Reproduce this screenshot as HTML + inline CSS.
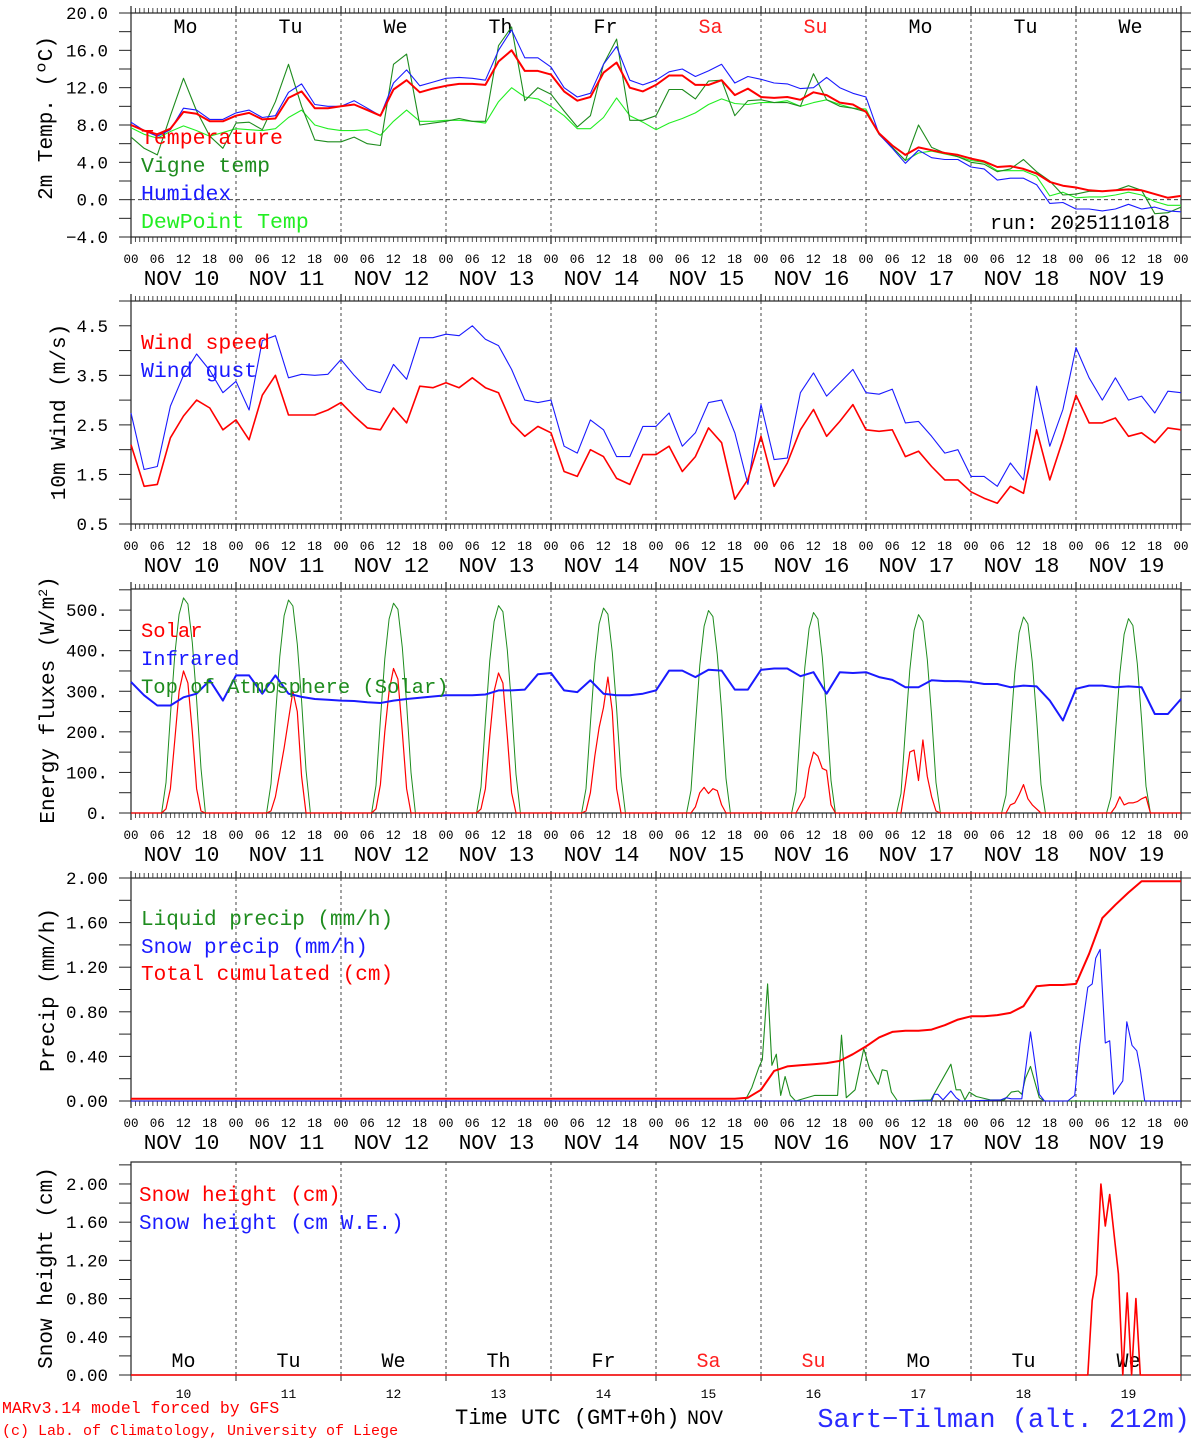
<!DOCTYPE html>
<html><head><meta charset="utf-8"><style>
html,body{margin:0;padding:0;background:#fff;}
svg{display:block;font-family:"Liberation Mono",monospace;}
</style></head><body>
<svg id="chart" xmlns="http://www.w3.org/2000/svg" width="1194" height="1440" viewBox="0 0 1194 1440">
<rect x="0" y="0" width="1194" height="1440" fill="#fff"/>
<g id="g"></g>
<g font-size="21.5">
<text x="141" y="144" fill="#ff0000">Temperature</text>
<text x="141" y="172" fill="#1e8c1e">Vigne temp</text>
<text x="141" y="200" fill="#1a1aff">Humidex</text>
<text x="141" y="228" fill="#22ee22">DewPoint Temp</text>
<text x="1170" y="229" font-size="20" fill="#000" text-anchor="end">run: 2025111018</text>
</g>
<g font-size="21.5">
<text x="141" y="349" fill="#ff0000">Wind speed</text>
<text x="141" y="377" fill="#1a1aff">Wind gust</text>
</g>
<g font-size="20.5">
<text x="141" y="637" fill="#ff0000">Solar</text>
<text x="141" y="665" fill="#1a1aff">Infrared</text>
<text x="141" y="693" fill="#1e8c1e">Top of Atmosphere (Solar)</text>
</g>
<g font-size="21">
<text x="141" y="925" fill="#1e8c1e">Liquid precip (mm/h)</text>
<text x="141" y="953" fill="#1a1aff">Snow precip (mm/h)</text>
<text x="141" y="980" fill="#ff0000">Total cumulated (cm)</text>
</g>
<g font-size="21">
<text x="139" y="1201" fill="#ff0000">Snow height (cm)</text>
<text x="139" y="1229" fill="#1a1aff">Snow height (cm W.E.)</text>
</g>
<g font-size="21" fill="#000" text-anchor="middle">
<text transform="translate(52,118) rotate(-90)">2m Temp. (ºC)</text>
<text transform="translate(65,412) rotate(-90)">10m Wind (m/s)</text>
<text transform="translate(54,700) rotate(-90)">Energy fluxes (W/m<tspan font-size="13" dy="-7">2</tspan><tspan dy="7">)</tspan></text>
<text transform="translate(54,990) rotate(-90)">Precip (mm/h)</text>
<text transform="translate(52,1268) rotate(-90)">Snow height (cm)</text>
</g>
<g>
<text x="2" y="1413" font-size="16.5" fill="#ff0000">MARv3.14 model forced by GFS</text>
<text x="2" y="1435" font-size="15" fill="#ff0000">(c) Lab. of Climatology, University of Liege</text>
<text x="455" y="1424" font-size="22" fill="#000">Time UTC (GMT+0h)</text>
<text x="687" y="1424" font-size="20" fill="#000">NOV</text>
<text x="1190" y="1427" font-size="27" fill="#2a2aff" text-anchor="end">Sart−Tilman (alt. 212m)</text>
</g>
</svg>
<script>
// ---------- data (3-hourly from Nov 10 00 UTC) ----------
const dayNames = ["Mo","Tu","We","Th","Fr","Sa","Su","Mo","Tu","We"];
const dayNums = ["10","11","12","13","14","15","16","17","18","19"];
const hourLabels = ["00","06","12","18"];
const tempTicks = ["20.0","16.0","12.0","8.0","4.0","0.0","−4.0"];
const tempTickVals = [20,16,12,8,4,0,-4];
const windTicks = ["4.5","3.5","2.5","1.5","0.5"];
const windTickVals = [4.5,3.5,2.5,1.5,0.5];
const energyTicks = ["500.","400.","300.","200.","100.","0."];
const energyTickVals = [500,400,300,200,100,0];
const precipTicks = ["2.00","1.60","1.20","0.80","0.40","0.00"];
const precipTickVals = [2,1.6,1.2,0.8,0.4,0];

const temperature = [8.0,7.4,7.0,7.6,9.4,9.2,8.4,8.4, 9.0,9.3,8.6,8.7,10.9,11.6,9.8,9.8, 10.0,10.2,9.6,9.0,11.8,12.8,11.5,11.9, 12.2,12.4,12.4,12.3,14.8,16.0,13.8,13.8, 13.4,11.6,10.6,11.0,13.6,14.7,12.0,11.6, 12.3,13.3,13.3,12.3,12.3,12.8,11.2,11.9, 11.0,10.9,11.0,10.7,11.5,11.2,10.4,10.2, 9.4,7.1,5.8,4.8,5.6,5.3,5.0,4.8, 4.4,4.1,3.5,3.6,3.3,2.8,1.9,1.5, 1.3,1.0,0.9,1.0,1.1,1.0,0.6,0.2,0.4];
const vigneTemp = [6.7,5.5,4.8,9.0,13.0,9.5,6.8,5.5, 8.2,8.3,7.5,10.5,14.5,10.0,6.4,6.2, 6.2,6.7,6.0,5.8,14.5,15.6,8.0,8.2, 8.4,8.7,8.4,8.4,16.5,18.5,10.6,12.0, 11.3,9.5,7.8,9.0,14.5,17.2,8.5,8.5, 9.0,11.8,11.8,10.8,12.7,12.8,9.0,10.6, 10.7,10.4,10.4,10.0,13.5,10.7,10.0,9.8, 9.4,7.0,5.6,4.2,8.0,5.6,5.0,4.6, 4.0,3.8,3.0,3.3,4.3,3.0,2.0,0.5, 0.6,0.9,0.9,1.0,1.5,1.0,-1.5,-1.4,-0.8];
const humidex = [8.3,7.4,6.8,7.5,9.8,9.6,8.6,8.6, 9.3,9.6,8.8,9.0,11.5,12.4,10.2,10.0, 10.0,10.6,9.8,9.0,12.5,13.9,12.2,12.6, 13.0,13.1,13.0,12.8,16.0,18.2,15.2,15.2, 14.2,12.0,11.0,11.4,14.5,16.4,12.8,12.3, 12.8,13.7,14.0,13.2,13.8,14.5,12.5,13.2, 12.9,12.5,12.4,11.9,12.0,13.1,12.0,11.4, 11.0,7.0,5.5,3.9,5.3,4.5,4.3,4.3, 3.5,3.3,2.1,2.3,2.3,1.6,-0.4,-0.3, -1.0,-1.0,-1.2,-1.0,-0.5,-1.0,-0.8,-1.2,-1.3];
const dewPoint = [7.7,7.0,6.6,7.3,7.9,7.4,6.8,7.2, 7.6,7.5,7.4,7.6,8.8,9.6,8.0,7.6, 7.4,7.4,7.5,6.9,8.4,9.6,8.4,8.4, 8.5,8.5,8.4,8.2,10.5,12.0,11.0,10.8, 10.0,9.0,7.6,7.6,8.8,10.9,9.0,8.3, 7.5,8.2,8.7,9.3,10.2,10.8,10.3,10.2, 10.4,10.4,10.6,10.0,10.4,10.7,10.2,9.8, 9.7,7.0,5.6,4.2,5.0,5.2,4.9,4.6, 4.2,4.0,3.1,3.1,3.1,2.5,0.4,0.8, 0.2,0.3,0.3,0.5,0.8,0.5,-0.2,-0.6,-0.6];

const windSpeed = [2.1,1.26,1.3,2.24,2.68,3.0,2.84,2.4, 2.6,2.2,3.1,3.5,2.7,2.7,2.7,2.8, 2.95,2.68,2.44,2.4,2.84,2.54,3.28,3.25, 3.35,3.25,3.45,3.25,3.15,2.54,2.27,2.47, 2.34,1.56,1.46,2.0,1.86,1.42,1.3,1.9, 1.9,2.07,1.56,1.86,2.44,2.14,1.0,1.4, 2.27,1.26,1.73,2.4,2.81,2.27,2.57,2.91, 2.4,2.37,2.4,1.86,1.97,1.66,1.39,1.39, 1.15,1.02,0.92,1.26,1.12,2.4,1.39,2.2, 3.1,2.54,2.54,2.64,2.27,2.34,2.14,2.44,2.4];
const windGust = [2.74,1.6,1.66,2.88,3.5,3.93,3.6,3.15, 3.38,2.8,4.2,4.3,3.45,3.52,3.5,3.52, 3.82,3.5,3.22,3.15,3.72,3.42,4.26,4.26, 4.33,4.3,4.5,4.23,4.1,3.62,3.0,2.95, 3.0,2.07,1.93,2.6,2.4,1.86,1.86,2.47, 2.47,2.74,2.07,2.34,2.95,3.0,2.34,1.3, 2.91,1.8,1.83,3.15,3.55,3.08,3.35,3.62, 3.15,3.12,3.22,2.54,2.57,2.27,1.93,2.0, 1.46,1.46,1.26,1.73,1.39,3.28,2.07,2.81, 4.06,3.45,3.0,3.45,3.0,3.08,2.74,3.18,3.15];

const infrared = [323,290,265,265,285,294,327,277, 339,339,294,339,294,286,281,279, 277,276,273,271,277,281,284,287, 290,290,290,292,302,302,304,342, 345,302,298,327,294,290,290,294, 302,351,351,335,353,351,304,304, 353,356,356,337,347,294,347,345, 347,335,328,310,310,327,325,325, 323,318,318,310,314,312,277,228, 306,314,314,310,312,310,244,244,281];
// hourly values for hours 07..17 of each day
const toaDaily = [
[0,75,240,390,490,530,515,420,280,110,0],
[0,72,236,386,486,525,510,416,276,106,0],
[0,68,230,380,478,517,502,408,270,100,0],
[0,64,226,376,472,511,496,402,264,95,0],
[0,60,220,370,466,505,490,396,258,90,0],
[0,56,215,364,460,499,484,390,252,85,0],
[0,52,210,358,455,494,478,384,246,80,0],
[0,48,205,352,450,489,472,378,240,75,0],
[0,44,200,346,444,483,466,372,234,70,0],
[0,40,196,342,440,479,462,368,230,66,0]];
const solarDaily = [
[0,10,60,180,300,350,320,200,60,5,0],
[0,5,40,100,160,230,300,250,90,0,0],
[0,10,70,200,300,356,330,200,60,0,0],
[0,10,60,190,300,345,320,190,50,0,0],
[0,5,50,140,210,260,335,250,60,0,0],
[0,0,15,50,63,48,60,55,20,0,0],
[0,0,20,40,110,150,140,110,105,20,0],
[0,0,70,150,155,80,180,90,40,5,0],
[0,0,20,25,45,70,35,20,10,0,0],
[0,0,15,40,20,25,25,28,35,40,0]];

const totalCumulated = [0.02,0.02,0.02,0.02,0.02,0.02,0.02,0.02, 0.02,0.02,0.02,0.02,0.02,0.02,0.02,0.02, 0.02,0.02,0.02,0.02,0.02,0.02,0.02,0.02, 0.02,0.02,0.02,0.02,0.02,0.02,0.02,0.02, 0.02,0.02,0.02,0.02,0.02,0.02,0.02,0.02, 0.02,0.02,0.02,0.02,0.02,0.02,0.02,0.03, 0.10,0.27,0.31,0.32,0.33,0.34,0.36,0.42, 0.49,0.57,0.62,0.63,0.63,0.64,0.68,0.73, 0.76,0.76,0.77,0.79,0.85,1.03,1.04,1.04, 1.05,1.32,1.64,1.76,1.87,1.97,1.97,1.97,1.97];
// event series: hours since Nov 10 00 UTC and values
const liquidHours = [0,140.3,141.9,143.5,144.3,145.5,146.5,147.5,148.5,149.5,150.7,151.9,156.3,160.3,161.5,162.4,163.5,165.5,167.5,168.8,170.8,171.7,172.8,173.8,175.2,182.8,187.4,188.6,189.6,190.6,191.6,193.2,196.4,199.6,201.2,202.8,203.6,204.4,205.6,207.6,208.8,240];
const liquidVals = [0,0,0.12,0.30,0.37,1.05,0.32,0.42,0.05,0.22,0.05,0,0.05,0.05,0.05,0.59,0.03,0.10,0.47,0.29,0.15,0.28,0.27,0.08,0,0.01,0.33,0.10,0.10,0.01,0.08,0.04,0.01,0.01,0.08,0.09,0.06,0.20,0.31,0.03,0,0];
const snowHours = [0,183,183.6,184.4,185.6,187.4,188.6,189.6,198.8,200,201.2,203.6,205.6,207.6,208.8,214.1,215.7,216.9,218.7,219.7,220.5,221.5,222.7,223.7,224.6,226.7,227.6,228.8,229.9,230.7,231.7,240];
const snowVals = [0,0,0.06,0.06,0.01,0.09,0.03,0,0.01,0.03,0.02,0.02,0.62,0.06,0,0,0.05,0.51,1.02,1.05,1.28,1.36,0.52,0.54,0.06,0.18,0.71,0.50,0.45,0.28,0,0];
const snowHeightHours = [0,218.7,219.7,220.7,221.7,222.7,223.7,225.7,226.7,227.7,228.7,229.7,230.7,240];
const snowHeightVals = [0,0,0.78,1.05,2.0,1.56,1.89,1.06,0,0.86,0,0.8,0,0];

// ---------- layout ----------
const NS = "http://www.w3.org/2000/svg";
const G = document.getElementById('g');
const X0 = 131, X1 = 1181, HOURS = 240;
function xh(h){ return X0 + h*(X1-X0)/HOURS; }
const panels = [
 {id:'temp', top:13, bottom:237, min:-4, max:20},
 {id:'wind', top:301, bottom:524, min:0.5, max:5.0},
 {id:'energy', top:589, bottom:813, min:0, max:552},
 {id:'precip', top:878, bottom:1101, min:0, max:2.0},
 {id:'snow', top:1162, bottom:1375, min:0, max:2.23}
];
function yv(p,v){ return p.bottom - (v-p.min)/(p.max-p.min)*(p.bottom-p.top); }
function el(tag){ const e=document.createElementNS(NS,tag); G.appendChild(e); return e; }
function line(x1,y1,x2,y2,stroke,w,dash){
  const e=el('line');
  e.setAttribute('x1',x1);e.setAttribute('y1',y1);e.setAttribute('x2',x2);e.setAttribute('y2',y2);
  e.setAttribute('stroke',stroke);e.setAttribute('stroke-width',w);
  if(dash) e.setAttribute('stroke-dasharray',dash);
  return e;
}
function text(x,y,s,size,fill,anchor){
  const e=el('text');
  e.setAttribute('x',x);e.setAttribute('y',y);e.setAttribute('font-size',size);
  e.setAttribute('fill',fill||'#000');e.setAttribute('text-anchor',anchor||'middle');
  e.textContent=s; return e;
}
function pathFrom(p, xs, ys, color, w, name){
  let d='';
  for(let i=0;i<ys.length;i++){ d += (i?'L':'M') + xh(xs[i]).toFixed(1)+','+yv(p,ys[i]).toFixed(1); }
  const e=el('path');
  e.setAttribute('d',d);e.setAttribute('fill','none');e.setAttribute('stroke',color);
  e.setAttribute('stroke-width',w);e.setAttribute('stroke-linejoin','round');
  
  
  return e;
}
function series3h(p, vals, color, w, name){
  const xs = vals.map((v,i)=>i*3);
  return pathFrom(p, xs, vals, color, w, name);
}
function dailyHourly(daily){
  const xs=[0], ys=[0];
  daily.forEach((arr,d)=>{ arr.forEach((v,k)=>{ xs.push(d*24+7+k); ys.push(v); }); });
  xs.push(240); ys.push(0);
  return [xs,ys];
}

// ---------- frames / axes ----------
panels.forEach((p,pi)=>{
  for(let d=1; d<10; d++){
    const dl=line(xh(d*24),p.top,xh(d*24),p.bottom,'#333',0.9,'3,3');
    
    
  }
  const fr=el('rect');
  fr.setAttribute('x',X0);fr.setAttribute('y',p.top);fr.setAttribute('width',X1-X0);fr.setAttribute('height',p.bottom-p.top);
  fr.setAttribute('fill','none');fr.setAttribute('stroke','#222');fr.setAttribute('stroke-width',1.2);
  
  
  if(pi<4){
    for(let h=0; h<=240; h++){
      const x=xh(h); const big=(h%24===0);
      line(x,p.top-(big?7:5),x,p.top,'#222',big?1.2:0.8);
      line(x,p.bottom,x,p.bottom+(big?7:5),'#222',big?1.2:0.8);
    }
    for(let d=0; d<=10; d++){
      for(let k=0;k<4;k++){
        if(d===10 && k>0) break;
        const t=text(xh(d*24+k*6), p.bottom+26, hourLabels[k], 12.5);
        
        
      }
    }
    for(let d=0; d<10; d++){
      const t=text(xh(d*24+12)-2, p.bottom+48, 'NOV '+dayNums[d], 21);
      
      
    }
  } else {
    for(let d=0; d<=10; d++){ line(xh(d*24),p.bottom,xh(d*24),p.bottom+6,'#222',1); }
    for(let d=0; d<10; d++){
      const t=text(xh(d*24+12), 1367, dayNames[d], 20, (d===5||d===6)?'#ff2020':'#000');
      
      
      const n=text(xh(d*24+12), 1398, dayNums[d], 13);
      
      
    }
  }
});
for(let d=0; d<10; d++){
  const t=text(xh(d*24+12)+2, 33, dayNames[d], 20, (d===5||d===6)?'#ff2020':'#000');
  
  
}
function yAxis(p, vals, labels, minorStep){
  for(let v=p.min; v<=p.max+1e-9; v+=minorStep){
    const y=yv(p,v);
    if(y<p.top-0.5) continue;
    line(X0-12,y,X0,y,'#222',1);
    line(X1,y,X1+10,y,'#222',1);
  }
  vals.forEach((v,i)=>{
    const t=text(108, yv(p,v)+6, labels[i], 17.5, '#000', 'end');
    
    
  });
}
yAxis(panels[0], tempTickVals, tempTicks, 2);
yAxis(panels[1], windTickVals, windTicks, 0.5);
yAxis(panels[2], energyTickVals, energyTicks, 50);
yAxis(panels[3], precipTickVals, precipTicks, 0.2);
yAxis(panels[4], precipTickVals, precipTicks, 0.2);
const zl=line(X0,yv(panels[0],0),X1,yv(panels[0],0),'#222',0.9,'4,3');



// ---------- series ----------
const P=panels;
series3h(P[0], dewPoint, '#22ee22', 1.1, 'series-dewpoint');
series3h(P[0], vigneTemp, '#1e8c1e', 1.1, 'series-vigne-temp');
series3h(P[0], humidex, '#1a1aff', 1.1, 'series-humidex');
series3h(P[0], temperature, '#ff0000', 2, 'series-temperature');

series3h(P[1], windGust, '#1a1aff', 1.1, 'series-wind-gust');
series3h(P[1], windSpeed, '#ff0000', 1.6, 'series-wind-speed');

const toa = dailyHourly(toaDaily);
pathFrom(P[2], toa[0], toa[1], '#1e8c1e', 1, 'series-toa-solar');
const sol = dailyHourly(solarDaily);
pathFrom(P[2], sol[0], sol[1], '#ff0000', 1.2, 'series-solar');
series3h(P[2], infrared, '#1a1aff', 2, 'series-infrared');

pathFrom(P[3], liquidHours, liquidVals, '#1e8c1e', 1.1, 'series-liquid-precip');
pathFrom(P[3], snowHours, snowVals, '#1a1aff', 1.1, 'series-snow-precip');
series3h(P[3], totalCumulated, '#ff0000', 2, 'series-total-cumulated');

pathFrom(P[4], snowHeightHours, snowHeightVals, '#ff0000', 1.6, 'series-snow-height');
</script>
</body></html>
